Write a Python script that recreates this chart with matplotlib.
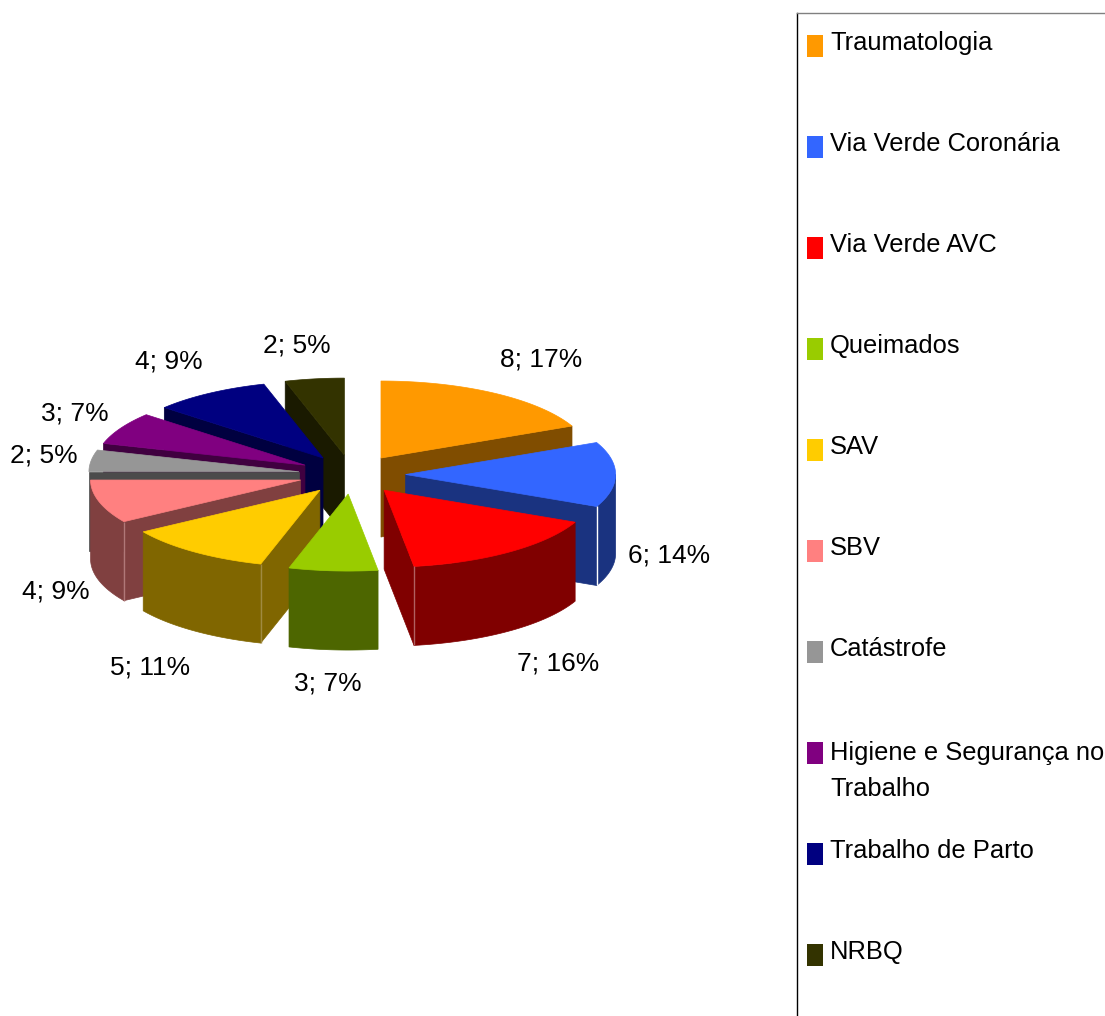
import numpy as np
import matplotlib
matplotlib.use("Agg")
import matplotlib.pyplot as plt
from matplotlib.patches import Rectangle

# chart data
categories = ["Traumatologia", "Via Verde Coronária", "Via Verde AVC", "Queimados", "SAV", "SBV",
              "Catástrofe", "Higiene e Segurança no\nTrabalho", "Trabalho de Parto", "NRBQ"]
values = [8, 6, 7, 3, 5, 4, 2, 3, 4, 2]
percents = [17, 14, 16, 7, 11, 9, 5, 7, 9, 5]

top_colors = ["#FF9900", "#3366FF", "#FF0000", "#99CC00", "#FFCC00",
              "#FF8080", "#969696", "#800080", "#000080", "#333300"]
side_colors = ["#804D00", "#1A3380", "#800000", "#4D6600", "#806600",
               "#804040", "#4B4B4B", "#400040", "#000040", "#1A1A00"]

# light corner lines: slice index -> (angle bound index, colour)
corner_lines = {1: (2, "#FFFFFF"), 2: (3, "#B06060"), 4: (4, "#A08A40"), 5: (5, "#B07878")}

# label centres, in image pixels
label_pos = [(541, 359), (669, 556), (558, 664), (328, 684), (150, 668),
             (56, 591), (44, 455), (75, 413), (169, 361), (297, 345)]

# pie geometry, in image pixels
cx, cy = 352, 474.5
rx, ry = 210, 77
ex, ey = 53.6, 19.6  # explode distance
depth = 79

plt.rcParams["font.family"] = ["Liberation Sans", "DejaVu Sans"]

fig = plt.figure(figsize=(11.05, 10.16), dpi=100)
ax = fig.add_axes([0, 0, 1, 1])
ax.set_xlim(0, 1105)
ax.set_ylim(1016, 0)
ax.axis("off")

# slice angles, clockwise from the top
bounds = np.radians(np.cumsum([0] + values) / sum(values) * 360)


def rim(ax0, ay0, theta):
    return ax0 + rx * np.sin(theta), ay0 - ry * np.cos(theta)


def draw_slice(i):
    t0, t1 = bounds[i], bounds[i + 1]
    mid = (t0 + t1) / 2
    ax0 = cx + ex * np.sin(mid)
    ay0 = cy - ey * np.cos(mid)
    col = side_colors[i]

    # radial walls that face the viewer
    for t, visible in [(t0, np.sin(t0) < -1e-6), (t1, np.sin(t1) > 1e-6)]:
        if visible:
            x, y = rim(ax0, ay0, t)
            ax.fill([ax0, x, x, ax0], [ay0, y, y + depth, ay0 + depth], color=col, lw=0.5)

    # outer wall, front half of the rim only
    lo, hi = max(t0, np.pi / 2), min(t1, 3 * np.pi / 2)
    if lo < hi:
        ts = np.linspace(lo, hi, 40)
        x, y = rim(ax0, ay0, ts)
        ax.fill(np.r_[x, x[::-1]], np.r_[y, y[::-1] + depth], color=col, lw=0.5)

    # light line down the front corner
    if i in corner_lines:
        b, line_col = corner_lines[i]
        x, y = rim(ax0, ay0, bounds[b])
        ax.plot([x, x], [y, y + depth], color=line_col, lw=1.0, solid_capstyle="butt")

    # top face
    ts = np.linspace(t0, t1, 60)
    x, y = rim(ax0, ay0, ts)
    ax.fill(np.r_[ax0, x], np.r_[ay0, y], color=top_colors[i], lw=0.5)


# back slices first, front ones over them
for i in [9, 8, 7, 6, 5, 4, 3, 0, 1, 2]:
    draw_slice(i)

# data labels
for v, p, (x, y) in zip(values, percents, label_pos):
    ax.text(x, y, f"{v}; {p}%", fontsize=19, ha="center", va="center", color="black")

# legend frame
ax.plot([797, 797], [13, 1016], color="black", lw=1.0)
ax.plot([797, 1105], [13, 13], color="#808080", lw=1.0)

# legend entries
for i, name in enumerate(categories):
    ax.add_patch(Rectangle((807, 35 + 101 * i), 16, 22, color=top_colors[i], lw=0))
    y = 43 + 101 * i
    if "\n" in name:
        y = 771
    ax.text(830, y, name, fontsize=18.4, ha="left", va="center", color="black", linespacing=1.62)

fig.savefig("out.png", dpi=100)
